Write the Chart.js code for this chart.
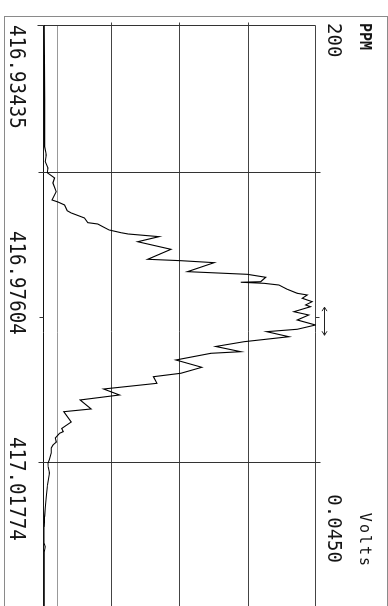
<!DOCTYPE html>
<html>
<head>
<meta charset="utf-8">
<script src="https://cdn.jsdelivr.net/npm/chart.js@4.4.1/dist/chart.umd.min.js"></script>
<style>
  html, body { margin: 0; padding: 0; background: #fff; overflow: hidden; }
  body { width: 388px; height: 606px; position: relative; }
  /* the plotter drew this sideways, so the chart is built flat and turned */
  #wrap { position: absolute; left: 0; top: 0; width: 640px; height: 388px;
          transform-origin: 0 0; transform: translate(388px, 0) rotate(90deg); }
</style>
</head>
<body>
<div id="wrap"><canvas id="peakChart" width="640" height="388"></canvas></div>
<script>
const massLabels = ['416.93435', '416.97604', '417.01774'];
const massRange = [416.93435, 417.01774];
const voltRange = [0, 0.0450];
const voltGrid = [0, 0.01125, 0.0225, 0.03375, 0.0450];
const thresholdVolts = 0.0022;
const windowMasses = [416.95541, 416.99654];
const centreMass = 416.97604;
const markerMasses = [416.9745, 416.9785];

const masses = [416.93435, 416.93933, 416.94502, 416.94929, 416.95167, 416.95242, 416.95285, 416.95380, 416.95470, 416.95537,
  416.95612, 416.95683, 416.95807, 416.95925, 416.95954, 416.95996, 416.96078, 416.96110, 416.96181, 416.96248,
  416.96267, 416.96305, 416.96352, 416.96391, 416.96409, 416.96447, 416.96519, 416.96627, 416.96769, 416.96789,
  416.96817, 416.96945, 416.96983, 416.97025, 416.97088, 416.97096, 416.97111, 416.97135, 416.97196, 416.97253,
  416.97277, 416.97324, 416.97372, 416.97419, 416.97444, 416.97515, 416.97562, 416.97633, 416.97704, 416.97765,
  416.97799, 416.97871, 416.97942, 416.98010, 416.98084, 416.98107, 416.98202, 416.98306, 416.98391, 416.98440,
  416.98534, 416.98615, 416.98700, 416.98771, 416.98899, 416.98938, 416.99084, 416.99177, 416.99222, 416.99245,
  416.99312, 416.99369, 416.99412, 416.99454, 416.99525, 416.99625, 416.99668, 416.99725, 416.99810, 416.99981,
  417.00152, 417.00308, 417.00432, 417.00578, 417.00806, 417.00859, 417.00934, 417.01190, 417.01617, 417.01774];

const volts = [0.00005, 0.00008, 0.0001, 0.0001, 0.0001, 0.0003, 0.00038, 0.00021, 0.00066, 0.00054,
  0.00175, 0.00148, 0.00203, 0.00132, 0.00231, 0.0034, 0.00384, 0.0045, 0.0067, 0.00726,
  0.00891, 0.00973, 0.01077, 0.01275, 0.01391, 0.01902, 0.01551, 0.021, 0.01716, 0.02265,
  0.02814, 0.02375, 0.03365, 0.03667, 0.03585, 0.03255, 0.03639, 0.03886, 0.04025, 0.0419,
  0.04355, 0.04272, 0.04437, 0.04327, 0.04409, 0.04134, 0.04381, 0.0419, 0.04492, 0.0419,
  0.03683, 0.04051, 0.03309, 0.02842, 0.03255, 0.0276, 0.02182, 0.02611, 0.02265, 0.01811,
  0.01869, 0.00986, 0.0125, 0.00599, 0.0078, 0.00327, 0.0045, 0.00294, 0.00318, 0.00257,
  0.00186, 0.00203, 0.00148, 0.0012, 0.0012, 0.00087, 0.00066, 0.00071, 0.00092, 0.00059,
  0.00038, 0.00021, 0.0001, 0.00002, 0, 0.00021, 0.00005, 0.00002, 0.00002, 0.00002];

const crisp = p => Math.floor(p) + 0.5;

function line(ctx, x1, y1, x2, y2) {
  ctx.beginPath();
  ctx.moveTo(x1, y1);
  ctx.lineTo(x2, y2);
  ctx.stroke();
}

const plotterFrame = {
  id: 'plotterFrame',
  beforeDatasetsDraw(chart) {
    const { ctx, scales: { x, y } } = chart;
    const W = chart.width;
    const y0 = crisp(y.getPixelForValue(0));
    const yTop = crisp(y.getPixelForValue(voltRange[1]));
    const xl = crisp(x.getPixelForValue(massRange[0]));
    ctx.save();
    ctx.lineWidth = 1;

    // outer border of the sheet
    ctx.strokeStyle = '#8a8a8a';
    ctx.strokeRect(16.5, 0.5, W, 383);

    // intensity grid
    voltGrid.forEach((v, i) => {
      const p = crisp(y.getPixelForValue(v));
      ctx.strokeStyle = i === 0 ? '#111' : '#444';
      const start = (i === 0 || i === voltGrid.length - 1) ? xl : xl - 3;
      line(ctx, start, p, W, p);
    });

    ctx.strokeStyle = '#999';
    const t = crisp(y.getPixelForValue(thresholdVolts));
    line(ctx, xl, t, W, t);

    // start of scan and peak window
    ctx.strokeStyle = '#333';
    line(ctx, xl, y0 + 6, xl, yTop);
    windowMasses.forEach(m => {
      const p = crisp(x.getPixelForValue(m));
      line(ctx, p, y0 + 5, p, yTop - 5);
    });

    // centre ticks
    const c = crisp(x.getPixelForValue(centreMass));
    line(ctx, c, y0, c, y0 + 4);
    line(ctx, c, yTop, c, yTop - 4);

    // double arrow marker
    const a1 = x.getPixelForValue(markerMasses[0]);
    const a2 = x.getPixelForValue(markerMasses[1]);
    const ay = yTop - 9;
    ctx.strokeStyle = '#222';
    line(ctx, a1, ay, a2, ay);
    line(ctx, a1, ay, a1 + 4, ay - 2.5);
    line(ctx, a1, ay, a1 + 4, ay + 2.5);
    line(ctx, a2, ay, a2 - 4, ay - 2.5);
    line(ctx, a2, ay, a2 - 4, ay + 2.5);
    ctx.restore();
  },
  afterDraw(chart) {
    const { ctx, scales: { x } } = chart;
    ctx.save();
    ctx.fillStyle = '#151515';
    ctx.textBaseline = 'alphabetic';

    ctx.font = 'bold 15px "DejaVu Sans Mono"';
    ctx.textAlign = 'left';
    ctx.fillText('PPM', 23, 28);
    ctx.font = '19px "DejaVu Sans Mono"';
    ctx.fillText('200', 23, 60);

    ctx.textAlign = 'right';
    ctx.fillText('0.0450', 563, 60);
    ctx.font = '15px "DejaVu Sans Mono"';
    ctx.letterSpacing = '2px';
    ctx.fillText('Volts', 568, 28);
    ctx.letterSpacing = '0px';

    ctx.font = '22px "DejaVu Sans Mono"';
    ctx.textAlign = 'left';
    massLabels.forEach((lab, i) => {
      ctx.save();
      ctx.translate(x.left + i * 206, 378);
      ctx.scale(0.87, 1);
      ctx.fillText(lab, 0, 0);
      ctx.restore();
    });
    ctx.restore();
  }
};

new Chart(document.getElementById('peakChart'), {
  type: 'scatter',
  data: {
    datasets: [{
      data: masses.map((m, i) => ({ x: m, y: volts[i] })),
      showLine: true,
      borderColor: '#000',
      borderWidth: 1.1,
      pointRadius: 0,
      tension: 0
    }]
  },
  options: {
    responsive: false,
    animation: false,
    devicePixelRatio: 1,
    layout: { padding: { left: 25, right: 29, top: 72, bottom: 44 } },
    scales: {
      x: { type: 'linear', min: massRange[0], max: massRange[1], display: false },
      y: { type: 'linear', min: voltRange[0], max: voltRange[1], display: false }
    },
    plugins: { legend: { display: false }, tooltip: { enabled: false } }
  },
  plugins: [plotterFrame]
});
</script>
</body>
</html>
